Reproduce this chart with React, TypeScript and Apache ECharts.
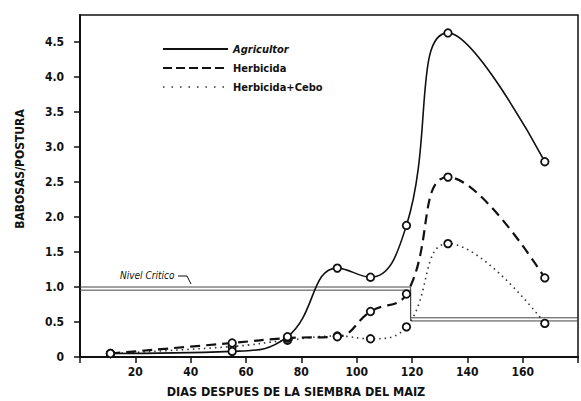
import React, { useEffect, useRef } from "react";
import * as echarts from "echarts";

const days = [11, 55, 75, 93, 105, 118, 133, 168];
const agricultor = [0.05, 0.08, 0.29, 1.27, 1.14, 1.88, 4.63, 2.79];
const herbicida = [0.05, 0.2, 0.27, 0.29, 0.65, 0.9, 2.57, 1.13];
const herbicidaCebo = [0.05, 0.15, 0.24, 0.3, 0.26, 0.43, 1.62, 0.48];

const criticalDays = [0, 119.5, 119.5, 180];
const criticalLevelA = [1.0, 1.0, 0.56, 0.56];
const criticalLevelB = [0.955, 0.955, 0.515, 0.515];

const xTicks = [20, 40, 60, 80, 100, 120, 140, 160];
const yTickLabels: Record<string, string> = {
  "0": "0", "0.5": "0.5", "1": "1.0", "1.5": "1.5", "2": "2.0",
  "2.5": "2.5", "3": "3.0", "3.5": "3.5", "4": "4.0", "4.5": "4.5",
};

const FONT = "'DejaVu Sans Condensed', 'DejaVu Sans', sans-serif";

const pairs = (xs: number[], ys: number[]) => xs.map((x, i) => [x, ys[i]]);

export default function App() {
  const ref = useRef<HTMLDivElement>(null);
  useEffect(() => {
    if (!ref.current) return;
    const chart = echarts.init(ref.current, null, { renderer: "svg" });
    const marker = {
      symbol: "circle",
      symbolSize: 7.5,
      itemStyle: { color: "#fff", borderColor: "#111", borderWidth: 1.8 },
    };
    chart.setOption({
      animation: false,
      backgroundColor: "#fff",
      textStyle: { fontFamily: FONT },
      grid: { left: 80, right: 3, top: 15, bottom: 44, show: true, borderColor: "#111", borderWidth: 1.5 },
      xAxis: {
        type: "value",
        min: 0,
        max: 180,
        interval: 20,
        splitLine: { show: false },
        axisLine: { lineStyle: { color: "#111", width: 2 } },
        axisTick: { show: true, inside: false, length: 6, lineStyle: { color: "#111", width: 1.5 } },
        axisLabel: {
          margin: 9,
          color: "#111",
          fontSize: 12,
          fontWeight: "bold",
          fontFamily: FONT,
          formatter: (v: number) => (xTicks.includes(v) ? String(v) : ""),
        },
      },
      yAxis: {
        type: "value",
        min: 0,
        max: 4.886,
        interval: 0.5,
        splitLine: { show: false },
        axisLine: { show: true, lineStyle: { color: "#111", width: 2 } },
        axisTick: { show: true, inside: false, length: 6, lineStyle: { color: "#111", width: 1.5 } },
        axisLabel: {
          margin: 16,
          color: "#111",
          fontSize: 12,
          fontWeight: "bold",
          fontFamily: FONT,
          showMaxLabel: false,
          formatter: (v: number) => yTickLabels[String(v)] ?? "",
        },
      },
      series: [
        {
          name: "critA",
          type: "line",
          data: pairs(criticalDays, criticalLevelA),
          symbol: "none",
          lineStyle: { color: "#444", width: 1 },
          silent: true,
        },
        {
          name: "critB",
          type: "line",
          data: pairs(criticalDays, criticalLevelB),
          symbol: "none",
          lineStyle: { color: "#444", width: 1 },
          silent: true,
        },
        {
          name: "Herbicida+Cebo",
          type: "line",
          data: pairs(days, herbicidaCebo),
          smooth: 0.45,
          ...marker,
          lineStyle: { color: "#333", width: 1.6, type: [1.5, 4] },
        },
        {
          name: "Herbicida",
          type: "line",
          data: pairs(days, herbicida),
          smooth: 0.45,
          ...marker,
          lineStyle: { color: "#111", width: 2.2, type: [10, 6] },
        },
        {
          name: "Agricultor",
          type: "line",
          data: pairs(days, agricultor),
          smooth: 0.45,
          ...marker,
          lineStyle: { color: "#111", width: 1.6 },
        },
      ],
      graphic: [
        { type: "line", shape: { x1: 163, y1: 49, x2: 228, y2: 49 }, style: { stroke: "#111", lineWidth: 1.8 } },
        { type: "line", shape: { x1: 163, y1: 68, x2: 228, y2: 68 }, style: { stroke: "#111", lineWidth: 2, lineDash: [9, 4] } },
        { type: "line", shape: { x1: 163, y1: 87, x2: 228, y2: 87 }, style: { stroke: "#333", lineWidth: 1.4, lineDash: [1.5, 7] } },
        { type: "text", x: 233, y: 49, style: { text: "Agricultor", font: `italic bold 11px ${FONT}`, fill: "#111", verticalAlign: "middle" } },
        { type: "text", x: 233, y: 68, style: { text: "Herbicida", font: `bold 11px ${FONT}`, fill: "#111", verticalAlign: "middle" } },
        { type: "text", x: 233, y: 87, style: { text: "Herbicida+Cebo", font: `bold 11px ${FONT}`, fill: "#111", verticalAlign: "middle" } },
        { type: "text", x: 120, y: 275, style: { text: "Nivel Critico", font: `italic 10px ${FONT}`, fill: "#111", verticalAlign: "middle" } },
        { type: "polyline", shape: { points: [[178, 276], [187, 276], [191, 284]] }, style: { stroke: "#111", lineWidth: 1, fill: "none" } },
        {
          type: "text",
          x: 20,
          y: 169,
          rotation: Math.PI / 2,
          style: { text: "BABOSAS/POSTURA", font: `bold 12px ${FONT}`, fill: "#111", align: "center", verticalAlign: "middle" },
        },
        {
          type: "text",
          x: 296,
          y: 391,
          style: { text: "DIAS DESPUES DE LA SIEMBRA DEL MAIZ", font: `bold 12.5px ${FONT}`, fill: "#111", align: "center", verticalAlign: "middle" },
        },
      ],
    });
    return () => chart.dispose();
  }, []);
  return <div ref={ref} style={{ width: 581, height: 401, position: "absolute", left: 0, top: 0 }} />;
}
